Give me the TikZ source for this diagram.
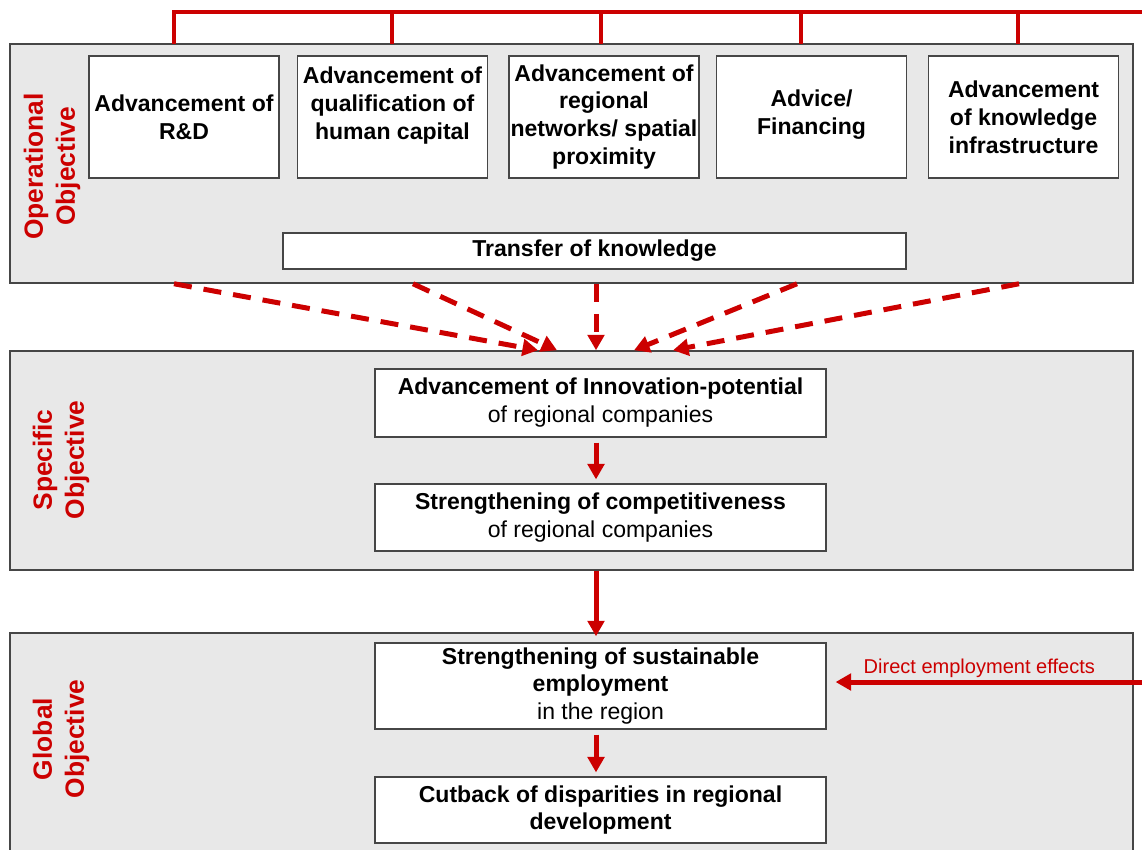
\documentclass[tikz,border=0pt]{standalone}
\usepackage{fontspec}
\setmainfont{Liberation Sans}
\usetikzlibrary{arrows.meta}

\definecolor{objred}{RGB}{204,0,0}
\definecolor{panelgray}{RGB}{232,232,232}
\definecolor{edgegray}{RGB}{70,70,70}

\tikzset{
	panel/.style = {draw = edgegray, fill = panelgray, line width = 0.3mm, inner sep = 0},
	box/.style = {draw = edgegray, fill = white, line width = 0.25mm, align = center, inner sep = 0, font = \fontsize{13.1}{15.9}\selectfont},
	topbox/.style = {box, minimum width = 38mm, minimum height = 24.4mm, font = \fontsize{13.1}{15.9}\selectfont\bfseries},
	midbox/.style = {box, minimum width = 90.2mm},
	objlabel/.style = {rotate = 90, align = center, text = objred, font = \fontsize{15}{18.2}\selectfont\bfseries},
	flow/.style = {draw = objred, line width = 1mm, -{Triangle[length = 3.1mm, width = 3.3mm]}},
	dashflow/.style = {flow, dash pattern = on 3.6mm off 2.4mm},
	bar/.style = {draw = objred, line width = 0.8mm}
}

\begin{document}
\begin{tikzpicture}[x = 0.2mm, y = -0.2mm]
	\useasboundingbox (0,0) rectangle (1142,849);
	\clip (0,0) rectangle (1142,849);

	% levels
	\node[panel, minimum width = 224.6mm, minimum height = 47.8mm] (op) at (571.5,163.5) {};
	\node[panel, minimum width = 224.6mm, minimum height = 43.8mm] (spec) at (571.5,460.5) {};
	\node[panel, minimum width = 224.6mm, minimum height = 45.2mm] (glob) at (571.5,746) {};

	\node[objlabel] (oplab) at (52,166.5) {Operational\\Objective};
	\node[objlabel] (speclab) at (61,460) {Specific\\Objective};
	\node[objlabel] (globlab) at (61,739) {Global\\Objective};

	% operational objectives
	\node[topbox] (rd) at (184,117) {Advancement of\\R\&D};
	\node[topbox] (qual) at (392.5,117) {Advancement of\\qualification of\\human capital\\~};
	\node[topbox] (netw) at (604,117) {Advancement of\\regional\\networks/ spatial\\proximity};
	\node[topbox] (advice) at (811.5,117) {Advice/\\Financing\\[-3.6mm]~};
	\node[topbox] (infra) at (1023.5,117) {Advancement\\of knowledge\\infrastructure};
	\node[box, minimum width = 124.6mm, minimum height = 7.2mm, font = \fontsize{13.1}{15.9}\selectfont\bfseries] (transfer) at (594.5,251) {Transfer of knowledge};

	% bracket on top
	\coordinate (barend) at (1142,12);
	\draw[bar] (174,44) |- (barend);
	\foreach \x in {392,601,801,1018} {
		\draw[bar] (\x,12) -- (\x,44);
	}

	% specific and global objectives
	\node[midbox, minimum height = 13.6mm] (innov) at (600.5,403) {\textbf{Advancement of Innovation-potential}\\of regional companies};
	\node[midbox, minimum height = 13.4mm] (compet) at (600.5,517.5) {\textbf{Strengthening of competitiveness}\\of regional companies};
	\node[midbox, minimum height = 17.2mm] (employ) at (600.5,686) {\textbf{Strengthening of sustainable}\\\textbf{employment}\\in the region};
	\node[midbox, minimum height = 13.2mm] (cutback) at (600.5,810) {\textbf{Cutback of disparities in regional}\\\textbf{development}};

	% arrows
	\coordinate (axis) at (596,0);
	\foreach \a/\b in {174/538, 413/557, 596/596, 797/634, 1019/673} {
		\coordinate (from) at (\a,0);
		\coordinate (to) at (\b,0);
		\draw[dashflow] (op.south -| from) -- (spec.north -| to);
	}
	\draw[flow, shorten <= 1mm, shorten >= 0.8mm] (innov.south -| axis) -- (compet.north -| axis);
	\draw[flow, shorten >= -0.8mm] (spec.south -| axis) -- (glob.north -| axis);
	\draw[flow, shorten <= 1mm, shorten >= 0.8mm] (employ.south -| axis) -- (cutback.north -| axis);

	\coordinate (direct) at (1142,682);
	\draw[flow, shorten >= 1.8mm] (direct) -- (employ.east |- direct)
		node[pos = 0.516, above, inner sep = 0.3mm, text = objred, font = \fontsize{11.4}{13}\selectfont] (directlab) {Direct employment effects};
\end{tikzpicture}
\end{document}
